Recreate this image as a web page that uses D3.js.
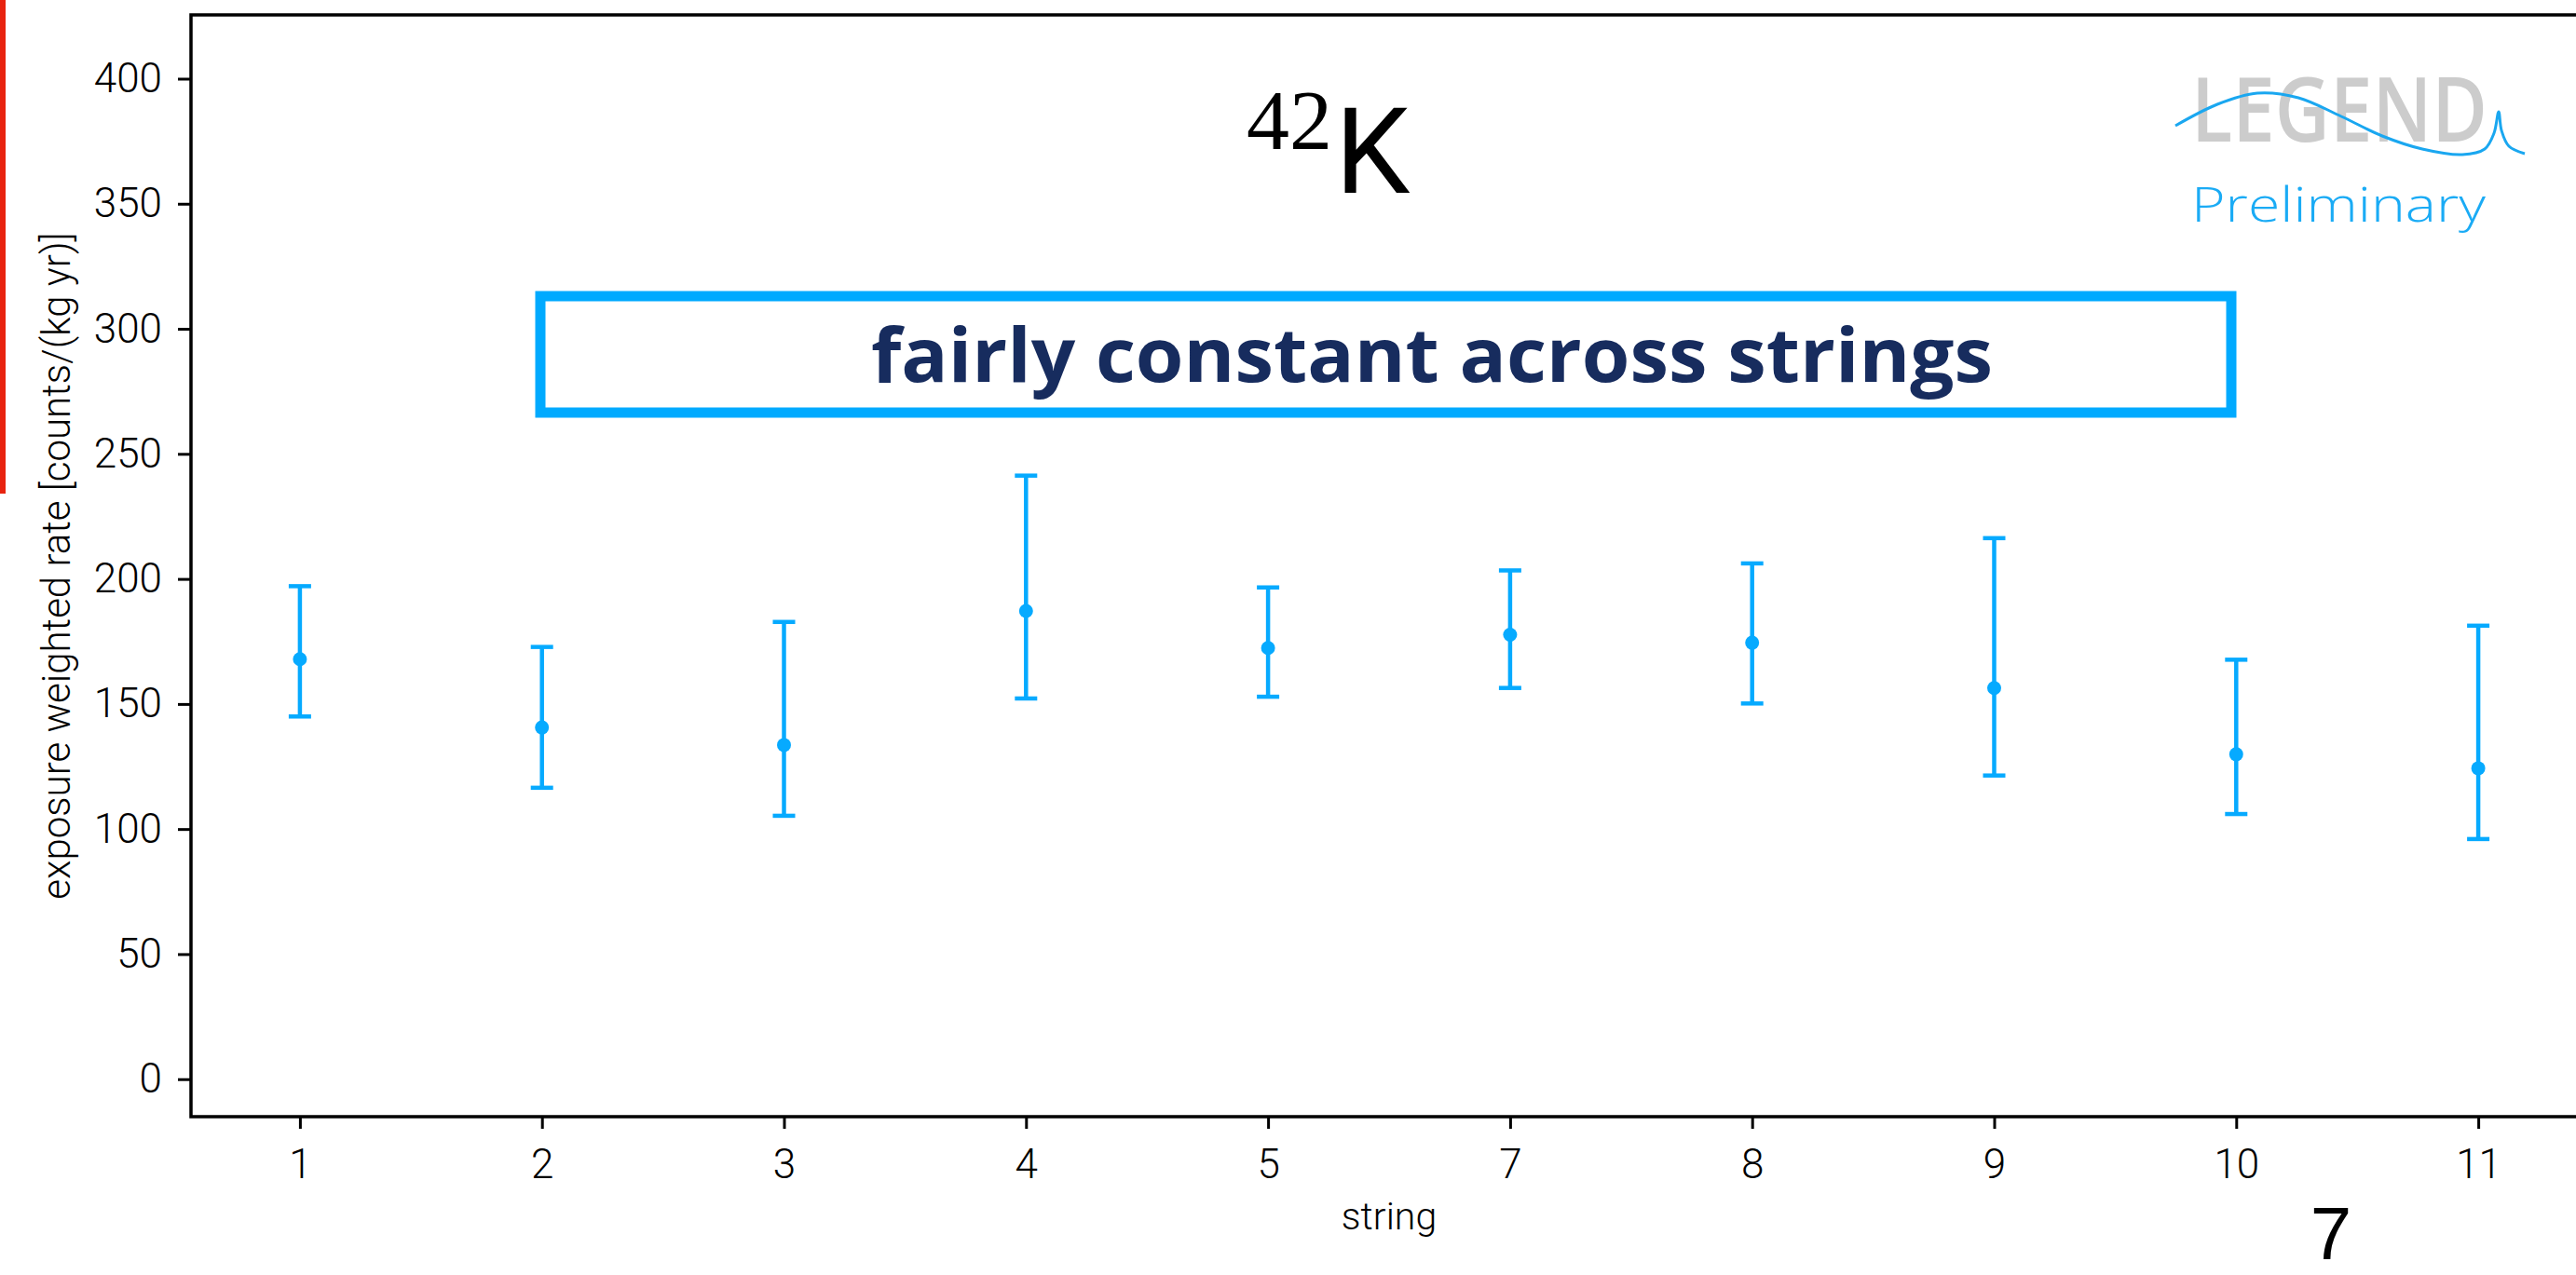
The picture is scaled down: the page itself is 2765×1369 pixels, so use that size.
<!DOCTYPE html>
<html lang="en">
<head>
<meta charset="UTF-8">
<title>42K rate per string</title>
<script src="https://d3js.org/d3.v7.min.js"></script>
<style>
  body { margin: 0; background: #fff; }
  svg { display: block; }
</style>
</head>
<body>
<div id="chart"></div>
<script>
// values
const strings = ["1", "2", "3", "4", "5", "7", "8", "9", "10", "11"];
const rates = [167.9, 140.6, 133.6, 187.2, 172.4, 177.7, 174.5, 156.4, 129.9, 124.3];
const lowerEdges = [145.0, 116.5, 105.3, 152.2, 152.9, 156.4, 150.2, 121.4, 106.0, 96.0];
const upperEdges = [197.1, 172.8, 182.8, 241.3, 196.6, 203.4, 206.2, 216.3, 167.7, 181.3];
const yTicks = [0, 50, 100, 150, 200, 250, 300, 350, 400];

const W = 2765, H = 1369;
const plot = { left: 205, right: 2777, top: 16, bottom: 1199 };
const blue = "#06aaff";

const svg = d3.select("#chart").append("svg")
    .attr("width", W)
    .attr("height", H);

const x = d3.scalePoint()
    .domain(strings)
    .range([plot.left, plot.right])
    .padding(0.45);

const y = d3.scaleLinear()
    .domain([-15, 425.5])
    .range([plot.bottom, plot.top]);

// red edge left over from the slide
svg.append("rect")
    .attr("x", 0).attr("y", 0)
    .attr("width", 6).attr("height", 530)
    .attr("fill", "#e8230f");

// axes
const xAxis = svg.append("g")
    .attr("transform", `translate(0,${plot.bottom})`)
    .call(d3.axisBottom(x).tickSize(13).tickPadding(22));

const yAxis = svg.append("g")
    .attr("transform", `translate(${plot.left},0)`)
    .call(d3.axisLeft(y).tickValues(yTicks).tickSize(14).tickPadding(17));

[xAxis, yAxis].forEach(a => {
    a.select(".domain").remove();
    a.selectAll(".tick line").attr("stroke", "#000").attr("stroke-width", 3);
    a.selectAll(".tick text")
        .attr("fill", "#000")
        .style("font-family", "Roboto")
        .style("font-weight", 300)
        .style("font-size", "44px");
});

svg.append("rect")
    .attr("x", plot.left)
    .attr("y", plot.top)
    .attr("width", plot.right - plot.left)
    .attr("height", plot.bottom - plot.top)
    .attr("fill", "none")
    .attr("stroke", "#000")
    .attr("stroke-width", 3.5);

// axis titles
svg.append("text")
    .attr("x", (plot.left + plot.right) / 2)
    .attr("y", 1320)
    .attr("text-anchor", "middle")
    .style("font-family", "Roboto")
    .style("font-weight", 300)
    .style("font-size", "41px")
    .text("string");

svg.append("text")
    .attr("transform", `translate(75,${(plot.top + plot.bottom) / 2}) rotate(-90)`)
    .attr("text-anchor", "middle")
    .style("font-family", "Roboto")
    .style("font-weight", 300)
    .style("font-size", "42px")
    .text("exposure weighted rate [counts/(kg yr)]");

// error bars
const bars = svg.append("g").selectAll("g")
    .data(strings)
    .join("g");

bars.append("line")
    .attr("x1", d => x(d)).attr("x2", d => x(d))
    .attr("y1", (d, i) => y(lowerEdges[i]))
    .attr("y2", (d, i) => y(upperEdges[i]))
    .attr("stroke", blue)
    .attr("stroke-width", 4.5);

bars.selectAll(".cap")
    .data((d, i) => [[d, lowerEdges[i]], [d, upperEdges[i]]])
    .join("line")
    .attr("class", "cap")
    .attr("x1", d => x(d[0]) - 12).attr("x2", d => x(d[0]) + 12)
    .attr("y1", d => y(d[1])).attr("y2", d => y(d[1]))
    .attr("stroke", blue)
    .attr("stroke-width", 4.5);

bars.append("circle")
    .attr("cx", d => x(d))
    .attr("cy", (d, i) => y(rates[i]))
    .attr("r", 7.5)
    .attr("fill", blue);

// title 42K
const title = svg.append("text").attr("fill", "#000");
title.append("tspan")
    .attr("x", 1338).attr("y", 160)
    .style("font-family", "Liberation Serif")
    .style("font-size", "92px")
    .text("42");
title.append("tspan")
    .attr("x", 1433).attr("y", 207)
    .style("font-family", "Roboto")
    .style("font-size", "128px")
    .text("K");

// annotation box
svg.append("rect")
    .attr("x", 580).attr("y", 318)
    .attr("width", 1815).attr("height", 125)
    .attr("fill", "#fff")
    .attr("stroke", "#00aaff")
    .attr("stroke-width", 11);

svg.append("text")
    .attr("x", 1537).attr("y", 410)
    .attr("text-anchor", "middle")
    .attr("textLength", 1204)
    .attr("lengthAdjust", "spacingAndGlyphs")
    .attr("fill", "#172c5e")
    .style("font-family", "Open Sans")
    .style("font-weight", 700)
    .style("font-size", "80px")
    .text("fairly constant across strings");

// LEGEND logo
svg.append("text")
    .attr("x", 2352).attr("y", 152)
    .attr("textLength", 318)
    .attr("lengthAdjust", "spacingAndGlyphs")
    .attr("fill", "#cccccc")
    .style("font-family", "Open Sans")
    .style("font-weight", 600)
    .style("font-size", "96px")
    .text("LEGEND");

const wave = [[2335, 135], [2380, 112], [2423, 100], [2467, 105], [2513, 125], [2557, 146],
              [2600, 160], [2643, 166], [2667, 160], [2677, 143], [2682, 120], [2685, 140],
              [2693, 157], [2710, 165]];
svg.append("path")
    .attr("d", d3.line().curve(d3.curveCatmullRom)(wave))
    .attr("fill", "none")
    .attr("stroke", "#1aa7f0")
    .attr("stroke-width", 3);

svg.append("text")
    .attr("x", 2352).attr("y", 238)
    .attr("textLength", 316)
    .attr("lengthAdjust", "spacingAndGlyphs")
    .attr("fill", "#1aabf5")
    .style("font-family", "Open Sans")
    .style("font-weight", 300)
    .style("font-size", "52px")
    .text("Preliminary");

// slide number
svg.append("text")
    .attr("x", 2502).attr("y", 1352)
    .attr("text-anchor", "middle")
    .attr("fill", "#000")
    .style("font-family", "Liberation Sans")
    .style("font-size", "80px")
    .text("7");
</script>
</body>
</html>
